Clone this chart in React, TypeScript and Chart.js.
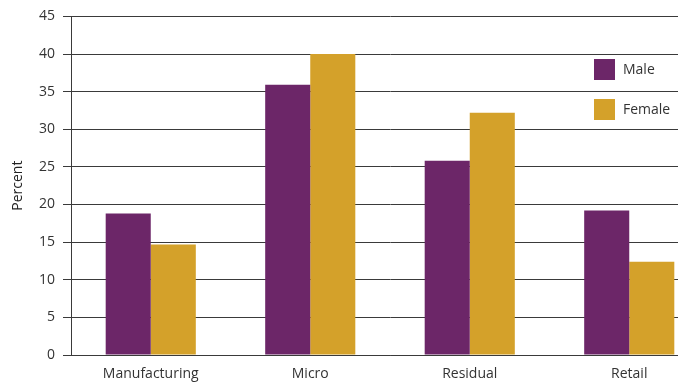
import React, { useEffect, useRef } from "react";
import { Chart, registerables } from "chart.js";

Chart.register(...registerables);

const categories = ["Manufacturing", "Micro", "Residual", "Retail"];
const maleValues = [18.8, 35.9, 25.8, 19.2];
const femaleValues = [14.7, 40.0, 32.2, 12.4];
const seriesLabels = ["Male", "Female"];
const yMin = 0;
const yMax = 45;
const yStep = 5;

const PURPLE = "#6C2668";
const GOLD = "#D4A12A";
const TEXT = "#333333";
const LINE = "#3a3a3a";
const FONT = "'Open Sans', 'Noto Sans', sans-serif";

// Square swatches with labels, drawn inside the plot near the top right.
const boxLegend = {
  id: "boxLegend",
  afterDatasetsDraw(chart: any) {
    const ctx = chart.ctx;
    ctx.save();
    chart.data.datasets.forEach((ds: any, i: number) => {
      const x = 594;
      const y = 59 + i * 40;
      ctx.fillStyle = ds.backgroundColor;
      ctx.fillRect(x, y, 21, 21);
      ctx.fillStyle = TEXT;
      ctx.font = `14px ${FONT}`;
      ctx.textAlign = "left";
      ctx.textBaseline = "middle";
      ctx.fillText(ds.label, x + 29, y + 11);
    });
    ctx.restore();
  },
};

export default function App() {
  const canvasRef = useRef<HTMLCanvasElement | null>(null);

  useEffect(() => {
    if (!canvasRef.current) return;
    const chart = new Chart(canvasRef.current, {
      type: "bar",
      data: {
        labels: categories,
        datasets: [
          {
            label: seriesLabels[0],
            data: maleValues,
            backgroundColor: PURPLE,
            barPercentage: 1,
            categoryPercentage: 0.565,
          },
          {
            label: seriesLabels[1],
            data: femaleValues,
            backgroundColor: GOLD,
            barPercentage: 1,
            categoryPercentage: 0.565,
          },
        ],
      },
      options: {
        animation: false,
        responsive: false,
        devicePixelRatio: 1,
        layout: { padding: { top: 15, right: 5, left: 0, bottom: 0 } },
        plugins: {
          legend: { display: false },
          tooltip: { enabled: false },
        },
        scales: {
          x: {
            grid: { display: false, drawTicks: false, tickLength: 0 },
            border: { display: true, color: LINE, width: 1 },
            ticks: {
              color: TEXT,
              font: { family: FONT, size: 14 },
              padding: 11,
              maxRotation: 0,
            },
            afterFit(scale: any) {
              scale.height = 28;
            },
          },
          y: {
            min: yMin,
            max: yMax,
            ticks: {
              stepSize: yStep,
              color: TEXT,
              font: { family: FONT, size: 14 },
              padding: 8,
            },
            grid: {
              color: LINE,
              lineWidth: 1,
              tickLength: 8,
              drawTicks: true,
            },
            border: { display: true, color: LINE, width: 1 },
            title: {
              display: true,
              text: "Percent",
              color: "#222222",
              font: { family: FONT, size: 14, weight: "500" },
              padding: { top: 10, bottom: 0 },
            },
            afterFit(scale: any) {
              scale.width = 71;
            },
          },
        },
      },
      plugins: [boxLegend],
    });
    return () => chart.destroy();
  }, []);

  return (
    <div
      style={{
        position: "absolute",
        left: 0,
        top: 0,
        width: 678,
        height: 383,
        overflow: "hidden",
        background: "#ffffff",
      }}
    >
      <canvas ref={canvasRef} width={714} height={383} style={{ display: "block" }} />
    </div>
  );
}
